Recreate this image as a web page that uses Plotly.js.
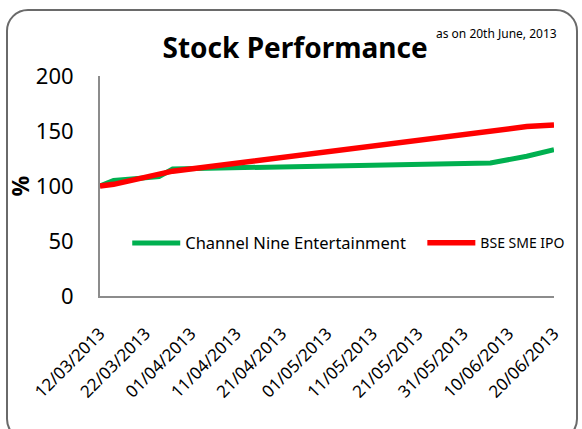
<!DOCTYPE html>
<html>
<head>
<meta charset="utf-8">
<script src="https://cdn.plot.ly/plotly-3.0.1.min.js"></script>
<style>
  html, body { margin: 0; padding: 0; background: #fff; }
  #wrap { position: relative; width: 582px; height: 429px; overflow: hidden; }
  #chart { position: absolute; left: 0; top: 0; width: 582px; height: 429px; }
  #frame { position: absolute; left: 6px; top: 9px; width: 572px; height: 432px;
           border: 2px solid #6a6a6a; border-radius: 22px; pointer-events: none; box-sizing: border-box; }
</style>
</head>
<body>
<div id="wrap">
  <div id="chart"></div>
  <div id="frame"></div>
</div>
<script>
// Data
const greenDates = ['2013-03-12', '2013-03-15', '2013-03-25', '2013-03-28', '2013-06-06', '2013-06-14', '2013-06-20'];
const greenValues = [100, 105, 108.5, 115.5, 121, 127, 133];
const redDates = ['2013-03-12', '2013-03-15', '2013-03-28', '2013-06-14', '2013-06-20'];
const redValues = [100, 101.5, 113.5, 154, 155.5];
const seriesNames = ['Channel Nine Entertainment', 'BSE SME IPO'];
const tickDates = ['2013-03-12', '2013-03-22', '2013-04-01', '2013-04-11', '2013-04-21', '2013-05-01',
                   '2013-05-11', '2013-05-21', '2013-05-31', '2013-06-10', '2013-06-20'];
const tickLabels = ['12/03/2013', '22/03/2013', '01/04/2013', '11/04/2013', '21/04/2013', '01/05/2013',
                    '11/05/2013', '21/05/2013', '31/05/2013', '10/06/2013', '20/06/2013'];
const yTicks = [0, 50, 100, 150, 200];

const font = 'Noto Sans, Open Sans, sans-serif';

const traces = [
  { x: greenDates, y: greenValues, name: seriesNames[0], type: 'scatter', mode: 'lines',
    line: { color: '#00B050', width: 5 }, legend: 'legend' },
  { x: redDates, y: redValues, name: seriesNames[1], type: 'scatter', mode: 'lines',
    line: { color: '#FF0000', width: 5.5 }, legend: 'legend2' }
];

const layout = {
  width: 582, height: 429,
  margin: { l: 100, r: 25, t: 76, b: 133 },
  paper_bgcolor: 'rgba(0,0,0,0)', plot_bgcolor: '#fff',
  font: { family: font, color: '#000' },
  title: { text: '<b>Stock Performance</b>', font: { size: 28, family: font, color: '#000' },
           x: 0.507, xref: 'container', y: 0.888, yref: 'container', yanchor: 'middle' },
  xaxis: {
    type: 'date', range: ['2013-03-12', '2013-06-20'],
    tickvals: tickDates, ticktext: tickLabels, tickangle: -45,
    tickfont: { size: 17, family: font }, ticks: '', ticklabelstandoff: 19,
    showgrid: false, zeroline: false, showline: true, linecolor: '#8c8c8c', linewidth: 2,
    fixedrange: true
  },
  yaxis: {
    range: [0, 200], tickvals: yTicks, tickfont: { size: 22, family: font },
    ticks: '', ticklabelstandoff: 20,
    showgrid: false, zeroline: false, showline: true, linecolor: '#8c8c8c', linewidth: 2,
    title: { text: '<b>%</b>', font: { size: 23, family: font }, standoff: 0 },
    fixedrange: true
  },
  legend: {
    orientation: 'h', x: 0.06, xanchor: 'left', y: 0.24, yanchor: 'middle',
    font: { size: 16.5, family: font }, bgcolor: 'rgba(0,0,0,0)', itemwidth: 48
  },
  legend2: {
    orientation: 'h', x: 0.71, xanchor: 'left', y: 0.24, yanchor: 'middle',
    font: { size: 14, family: font }, bgcolor: 'rgba(0,0,0,0)', itemwidth: 48
  },
  annotations: [
    { text: 'as on 20th June, 2013', xref: 'paper', yref: 'paper', x: 0.873, y: 1.195,
      xanchor: 'center', yanchor: 'middle', showarrow: false, font: { size: 12, family: font } }
  ],
  showlegend: true
};

Plotly.newPlot('chart', traces, layout, { displayModeBar: false, staticPlot: true });
</script>
</body>
</html>
